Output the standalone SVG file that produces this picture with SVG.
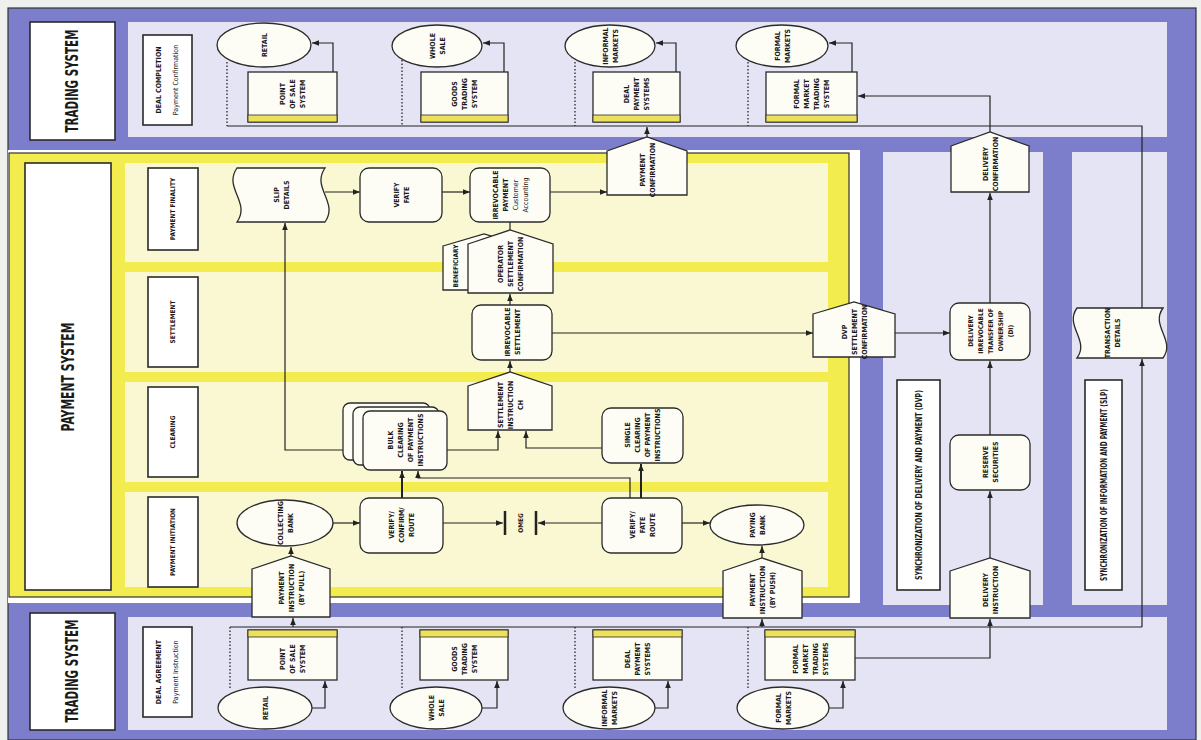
<svg xmlns="http://www.w3.org/2000/svg" width="1201" height="740" viewBox="0 0 1201 740">
<defs>
<style>
.t{font-family:"Liberation Sans Narrow","DejaVu Sans Condensed","Liberation Sans",sans-serif;font-weight:bold;font-size:7px;fill:#1a1a1a;text-anchor:middle}
.s{font-size:6.5px}
.r{font-weight:normal}
.big{font-size:17px}
.n{fill:#fdfdf6;stroke:#2a2a2a;stroke-width:1.3}
.lb{fill:#fff;stroke:#2a2a2a;stroke-width:1.6}
.strip{fill:#ece05c;stroke:#2a2a2a;stroke-width:0.8}
.c{fill:none;stroke:#222;stroke-width:1.2}
.a{marker-end:url(#ah)}
.dot{fill:none;stroke:#333;stroke-width:1.4;stroke-dasharray:1.5 2}
.purple{fill:#7c7ecb}
.lav{fill:#e4e4f5}
.yel{fill:#f3ec4e}
.ly{fill:#f9f8d2}
</style>
<marker id="ah" viewBox="0 0 10 10" refX="10" refY="5" markerWidth="7" markerHeight="7" orient="auto" markerUnits="userSpaceOnUse">
<path d="M0,1 L10,5 L0,9 z" fill="#222"/>
</marker>
</defs>

<!-- background frames -->
<g id="frames">
<rect x="0" y="0" width="1201" height="740" fill="#eef0ee"/>
<rect x="8" y="8" width="1188" height="732" class="purple" stroke="#333" stroke-width="1.2"/>
<rect x="128" y="22" width="1039" height="115" class="lav"/>
<rect x="8" y="150" width="852" height="453" fill="#fff"/>
<rect x="9" y="153" width="840" height="444" class="yel" stroke="#333" stroke-width="1.2"/>
<rect x="125" y="163" width="703" height="424" class="ly"/>
<rect x="112" y="262" width="736" height="10" class="yel"/>
<rect x="112" y="372" width="736" height="10" class="yel"/>
<rect x="112" y="482" width="736" height="10" class="yel"/>
<rect x="883" y="152" width="160" height="453" class="lav"/>
<rect x="1072" y="152" width="95" height="453" class="lav"/>
<rect x="128" y="617" width="1039" height="113" class="lav"/>
</g>

<!-- section labels -->
<g id="ts-top-label">
<rect x="30" y="22" width="85" height="118" class="lb"/>
<text class="t" style="font-size:11.5px" transform="translate(72 81) rotate(-90) scale(1 1.5)" y="4">TRADING SYSTEM</text>
</g>
<g id="ps-label">
<rect x="25" y="163" width="86" height="427" class="lb"/>
<text class="t" style="font-size:12px" transform="translate(68 377) rotate(-90) scale(1 1.5)" y="4">PAYMENT SYSTEM</text>
</g>
<g id="ts-bot-label">
<rect x="30" y="613" width="85" height="117" class="lb"/>
<text class="t" style="font-size:11.5px" transform="translate(72 671) rotate(-90) scale(1 1.5)" y="4">TRADING SYSTEM</text>
</g>
<g id="deal-completion">
<rect x="143" y="35" width="49" height="90" class="lb"/>
<text class="t" transform="translate(167 80) rotate(-90)"><tspan x="0" y="-6">DEAL COMPLETION</tspan><tspan class="r" x="0" y="11">Payment Confirmation</tspan></text>
</g>
<g id="deal-agreement">
<rect x="143" y="627" width="49" height="90" class="lb"/>
<text class="t" transform="translate(167 672) rotate(-90)"><tspan x="0" y="-6">DEAL AGREEMENT</tspan><tspan class="r" x="0" y="11">Payment Instruction</tspan></text>
</g>
<g id="lane-finality">
<rect x="148" y="168" width="50" height="82" class="lb"/>
<text class="t s" transform="translate(173 209) rotate(-90)" y="2.3">PAYMENT FINALITY</text>
</g>
<g id="lane-settlement">
<rect x="148" y="277" width="50" height="90" class="lb"/>
<text class="t s" transform="translate(173 322) rotate(-90)" y="2.3">SETTLEMENT</text>
</g>
<g id="lane-clearing">
<rect x="148" y="387" width="50" height="90" class="lb"/>
<text class="t s" transform="translate(173 432) rotate(-90)" y="2.3">CLEARING</text>
</g>
<g id="lane-initiation">
<rect x="148" y="497" width="50" height="90" class="lb"/>
<text class="t s" transform="translate(173 542) rotate(-90)" y="2.3">PAYMENT INITIATION</text>
</g>
<g id="dvp-label">
<rect x="897" y="380" width="43" height="210" class="lb"/>
<text class="t" transform="translate(918.5 485) rotate(-90)" y="3" style="font-size:8px" textLength="190" lengthAdjust="spacingAndGlyphs">SYNCHRONIZATION OF DELIVERY AND PAYMENT (DVP)</text>
</g>
<g id="slp-label">
<rect x="1085" y="380" width="37" height="210" class="lb"/>
<text class="t" transform="translate(1103.5 485) rotate(-90)" y="3" style="font-size:8px" textLength="192" lengthAdjust="spacingAndGlyphs">SYNCHRONIZATION OF INFORMATION AND PAYMENT (SLP)</text>
</g>

<!-- connectors -->
<g id="connectors">
<path class="c" d="M227,126 H1142 V308"/>
<path class="c a" d="M1142,627 V359"/>
<path class="c" d="M230,627 H1142"/>
<path class="c a" d="M333,72 V43 H312"/>
<path class="c a" d="M504,72 V43 H483"/>
<path class="c a" d="M676,72 V43 H656"/>
<path class="c a" d="M852,72 V43 H829"/>
<path class="c a" d="M312,708 H325 V681"/>
<path class="c a" d="M482,708 H497 V681"/>
<path class="c a" d="M655,708 H668 V681"/>
<path class="c a" d="M829,708 H843 V681"/>
<path class="dot" d="M227,62 V126 M402,60 V126 M575,62 V126 M748,62 V126"/>
<path class="dot" d="M230,627 V690 M402,627 V688 M575,627 V688 M748,627 V688"/>
<path class="c a" d="M325,192 H360"/>
<path class="c a" d="M442,192 H470"/>
<path class="c a" d="M550,192 H607"/>
<path class="c a" d="M647,137 V127"/>
<path class="c" d="M510,222 V230"/>
<path class="c a" d="M510,305 V294"/>
<path class="c a" d="M510,372 V361"/>
<path class="c a" d="M552,333 H813"/>
<path class="c a" d="M895,333 H950"/>
<path class="c a" d="M990,303 V193"/>
<path class="c a" d="M990,132 V96 H858"/>
<path class="c a" d="M990,435 V361"/>
<path class="c a" d="M990,558 V491"/>
<path class="c a" d="M855,658 H990 V619"/>
<path class="c a" d="M343,450 H285 V223"/>
<path class="c a" d="M447,450 H498 V431"/>
<path class="c a" d="M602,448 H526 V431"/>
<path class="c a" d="M402,498 V471" style="stroke-width:2"/>
<path class="c a" d="M630,498 V478 H418 V471"/>
<path class="c a" d="M641,498 V464" style="stroke-width:2"/>
<path class="c a" d="M333,523 H360"/>
<path class="c a" d="M443,523 H503"/>
<path class="c a" d="M602,523 H538"/>
<path class="c a" d="M682,523 H710"/>
<path class="c a" d="M291,556 V547"/>
<path class="c a" d="M293,627 V618"/>
<path class="c a" d="M762,558 V546"/>
<path class="c a" d="M762,627 V619"/>
</g>

<!-- top trading row -->
<g id="retail-top"><ellipse cx="264" cy="45" rx="47" ry="22" class="n"/><text class="t" transform="translate(264 45) rotate(-90)"><tspan x="0" y="2.5">RETAIL</tspan></text></g>
<g id="pos-top"><rect x="248" y="72" width="89" height="50" class="n"/><rect x="248" y="115" width="89" height="7" class="strip"/><text class="t" transform="translate(292 94) rotate(-90)"><tspan x="0" y="-7.5">POINT</tspan><tspan x="0" y="2.5">OF SALE</tspan><tspan x="0" y="12.5">SYSTEM</tspan></text></g>
<g id="wholesale-top"><ellipse cx="437" cy="46" rx="45" ry="21" class="n"/><text class="t" transform="translate(437 46) rotate(-90)"><tspan x="0" y="-2.5">WHOLE</tspan><tspan x="0" y="7.5">SALE</tspan></text></g>
<g id="goods-top"><rect x="421" y="72" width="87" height="50" class="n"/><rect x="421" y="115" width="87" height="7" class="strip"/><text class="t" transform="translate(464 94) rotate(-90)"><tspan x="0" y="-7.5">GOODS</tspan><tspan x="0" y="2.5">TRADING</tspan><tspan x="0" y="12.5">SYSTEM</tspan></text></g>
<g id="informal-top"><ellipse cx="610" cy="46" rx="45" ry="21" class="n"/><text class="t" transform="translate(610 46) rotate(-90)"><tspan x="0" y="-2.5">INFORMAL</tspan><tspan x="0" y="7.5">MARKETS</tspan></text></g>
<g id="dealpay-top"><rect x="593" y="72" width="87" height="50" class="n"/><rect x="593" y="115" width="87" height="7" class="strip"/><text class="t" transform="translate(636 94) rotate(-90)"><tspan x="0" y="-7.5">DEAL</tspan><tspan x="0" y="2.5">PAYMENT</tspan><tspan x="0" y="12.5">SYSTEMS</tspan></text></g>
<g id="formal-top"><ellipse cx="782" cy="46" rx="46" ry="21" class="n"/><text class="t" transform="translate(782 46) rotate(-90)"><tspan x="0" y="-2.5">FORMAL</tspan><tspan x="0" y="7.5">MARKETS</tspan></text></g>
<g id="fmts-top"><rect x="766" y="72" width="91" height="50" class="n"/><rect x="766" y="115" width="91" height="7" class="strip"/><text class="t" transform="translate(811 94) rotate(-90)"><tspan x="0" y="-12.5">FORMAL</tspan><tspan x="0" y="-2.5">MARKET</tspan><tspan x="0" y="7.5">TRADING</tspan><tspan x="0" y="17.5">SYSTEM</tspan></text></g>

<!-- bottom trading row -->
<g id="retail-bot"><ellipse cx="265" cy="708" rx="47" ry="21" class="n"/><text class="t" transform="translate(265 708) rotate(-90)"><tspan x="0" y="2.5">RETAIL</tspan></text></g>
<g id="pos-bot"><rect x="248" y="630" width="89" height="50" class="n"/><rect x="248" y="630" width="89" height="7" class="strip"/><text class="t" transform="translate(292 659) rotate(-90)"><tspan x="0" y="-7.5">POINT</tspan><tspan x="0" y="2.5">OF SALE</tspan><tspan x="0" y="12.5">SYSTEM</tspan></text></g>
<g id="wholesale-bot"><ellipse cx="436" cy="708" rx="46" ry="21" class="n"/><text class="t" transform="translate(436 708) rotate(-90)"><tspan x="0" y="-2.5">WHOLE</tspan><tspan x="0" y="7.5">SALE</tspan></text></g>
<g id="goods-bot"><rect x="420" y="630" width="88" height="50" class="n"/><rect x="420" y="630" width="88" height="7" class="strip"/><text class="t" transform="translate(464 659) rotate(-90)"><tspan x="0" y="-7.5">GOODS</tspan><tspan x="0" y="2.5">TRADING</tspan><tspan x="0" y="12.5">SYSTEM</tspan></text></g>
<g id="informal-bot"><ellipse cx="609" cy="708" rx="46" ry="21" class="n"/><text class="t" transform="translate(609 708) rotate(-90)"><tspan x="0" y="-2.5">INFORMAL</tspan><tspan x="0" y="7.5">MARKETS</tspan></text></g>
<g id="dealpay-bot"><rect x="593" y="630" width="89" height="50" class="n"/><rect x="593" y="630" width="89" height="7" class="strip"/><text class="t" transform="translate(637 659) rotate(-90)"><tspan x="0" y="-7.5">DEAL</tspan><tspan x="0" y="2.5">PAYMENT</tspan><tspan x="0" y="12.5">SYSTEMS</tspan></text></g>
<g id="formal-bot"><ellipse cx="783" cy="708" rx="46" ry="21" class="n"/><text class="t" transform="translate(783 708) rotate(-90)"><tspan x="0" y="-2.5">FORMAL</tspan><tspan x="0" y="7.5">MARKETS</tspan></text></g>
<g id="fmts-bot"><rect x="765" y="630" width="90" height="50" class="n"/><rect x="765" y="630" width="90" height="7" class="strip"/><text class="t" transform="translate(810 659) rotate(-90)"><tspan x="0" y="-12.5">FORMAL</tspan><tspan x="0" y="-2.5">MARKET</tspan><tspan x="0" y="7.5">TRADING</tspan><tspan x="0" y="17.5">SYSTEMS</tspan></text></g>

<!-- payment finality lane -->
<g id="slip-details"><path class="n" d="M237,168 H325 C311,188 339,202 325,222 H237 C251,202 223,188 237,168 Z"/><text class="t" transform="translate(281 195) rotate(-90)"><tspan x="0" y="-2.5">SLIP</tspan><tspan x="0" y="7.5">DETAILS</tspan></text></g>
<g id="verify-fate"><rect x="360" y="168" width="82" height="54" rx="9" class="n"/><text class="t" transform="translate(401 195) rotate(-90)"><tspan x="0" y="-2.5">VERIFY</tspan><tspan x="0" y="7.5">FATE</tspan></text></g>
<g id="irrevocable-payment"><rect x="470" y="168" width="80" height="54" rx="9" class="n"/><text class="t" transform="translate(510 195) rotate(-90)"><tspan x="0" y="-12.5">IRREVOCABLE</tspan><tspan x="0" y="-2.5">PAYMENT</tspan><tspan class="r" x="0" y="7.5">Customer</tspan><tspan class="r" x="0" y="17.5">Accounting</tspan></text></g>
<g id="payment-confirmation"><polygon class="n" points="607,151 647,137 687,151 687,195 607,195"/><text class="t" transform="translate(647 170) rotate(-90)"><tspan x="0" y="-2.5">PAYMENT</tspan><tspan x="0" y="7.5">CONFIRMATION</tspan></text></g>

<!-- settlement lane -->
<g id="settlement-confirmation">
<polygon class="n" points="443,246 484,234 525,246 525,290 443,290"/>
<text class="t s" transform="translate(456 266) rotate(-90)" y="2.3">BENEFICIARY</text>
<polygon class="n" points="468,244 510,230 553,244 553,293 468,293"/>
<text class="t" transform="translate(510 264) rotate(-90)"><tspan x="0" y="-7.5">OPERATOR</tspan><tspan x="0" y="2.5">SETTLEMENT</tspan><tspan x="0" y="12.5">CONFIRMATION</tspan></text>
</g>
<g id="irrevocable-settlement"><rect x="472" y="305" width="80" height="55" rx="9" class="n"/><text class="t" transform="translate(512 332) rotate(-90)"><tspan x="0" y="-2.5">IRREVOCABLE</tspan><tspan x="0" y="7.5">SETTLEMENT</tspan></text></g>
<g id="dvp-settlement-confirmation"><polygon class="n" points="813,314 854,302 895,314 895,357 813,357"/><text class="t" transform="translate(854 332) rotate(-90)"><tspan x="0" y="-7.5">DVP</tspan><tspan x="0" y="2.5">SETTLEMENT</tspan><tspan x="0" y="12.5">CONFIRMATION</tspan></text></g>

<!-- clearing lane -->
<g id="settlement-instruction"><polygon class="n" points="468,386 510,372 552,386 552,430 468,430"/><text class="t" transform="translate(510 405) rotate(-90)"><tspan x="0" y="-7.5">SETTLEMENT</tspan><tspan x="0" y="2.5">INSTRUCTION</tspan><tspan x="0" y="12.5">CH</tspan></text></g>
<g id="bulk-clearing">
<rect x="343" y="403" width="87" height="57" rx="7" class="n"/>
<rect x="353" y="407" width="86" height="58" rx="7" class="n"/>
<rect x="363" y="411" width="84" height="59" rx="7" class="n"/>
<text class="t" transform="translate(405 440) rotate(-90)"><tspan x="0" y="-12.5">BULK</tspan><tspan x="0" y="-2.5">CLEARING</tspan><tspan x="0" y="7.5">OF PAYMENT</tspan><tspan x="0" y="17.5">INSTRUCTIONS</tspan></text>
</g>
<g id="single-clearing"><rect x="602" y="408" width="81" height="55" rx="9" class="n"/><text class="t" transform="translate(642 435) rotate(-90)"><tspan x="0" y="-12.5">SINGLE</tspan><tspan x="0" y="-2.5">CLEARING</tspan><tspan x="0" y="7.5">OF PAYMENT</tspan><tspan x="0" y="17.5">INSTRUCTIONS</tspan></text></g>

<!-- initiation lane -->
<g id="collecting-bank"><ellipse cx="285" cy="523" rx="48" ry="23" class="n"/><text class="t" transform="translate(285 523) rotate(-90)"><tspan x="0" y="-2.5">COLLECTING</tspan><tspan x="0" y="7.5">BANK</tspan></text></g>
<g id="verify-confirm-route"><rect x="360" y="498" width="83" height="55" rx="9" class="n"/><text class="t" transform="translate(401 525) rotate(-90)"><tspan x="0" y="-7.5">VERIFY/</tspan><tspan x="0" y="2.5">CONFIRM/</tspan><tspan x="0" y="12.5">ROUTE</tspan></text></g>
<g id="omeg"><line x1="505" y1="511" x2="505" y2="535" stroke="#222" stroke-width="2.5"/><line x1="536" y1="511" x2="536" y2="535" stroke="#222" stroke-width="2.5"/><text class="t s" transform="translate(520.5 523) rotate(-90)" y="2.3">OMEG</text></g>
<g id="verify-fate-route"><rect x="602" y="498" width="80" height="55" rx="9" class="n"/><text class="t" transform="translate(642 525) rotate(-90)"><tspan x="0" y="-7.5">VERIFY/</tspan><tspan x="0" y="2.5">FATE</tspan><tspan x="0" y="12.5">ROUTE</tspan></text></g>
<g id="paying-bank"><ellipse cx="757" cy="525" rx="47" ry="20" class="n"/><text class="t" transform="translate(757 525) rotate(-90)"><tspan x="0" y="-2.5">PAYING</tspan><tspan x="0" y="7.5">BANK</tspan></text></g>
<g id="instruction-pull"><polygon class="n" points="252,569 291,556 330,569 330,617 252,617"/><text class="t" transform="translate(291 588) rotate(-90)"><tspan x="0" y="-7.5">PAYMENT</tspan><tspan x="0" y="2.5">INSTRUCTION</tspan><tspan x="0" y="12.5">(BY PULL)</tspan></text></g>
<g id="instruction-push"><polygon class="n" points="723,571 762,558 802,571 802,618 723,618"/><text class="t" transform="translate(762 590) rotate(-90)"><tspan x="0" y="-7.5">PAYMENT</tspan><tspan x="0" y="2.5">INSTRUCTION</tspan><tspan x="0" y="12.5">(BY PUSH)</tspan></text></g>

<!-- DVP column -->
<g id="delivery-confirmation"><polygon class="n" points="951,146 990,132 1029,146 1029,192 951,192"/><text class="t" transform="translate(990 164) rotate(-90)"><tspan x="0" y="-2.5">DELIVERY</tspan><tspan x="0" y="7.5">CONFIRMATION</tspan></text></g>
<g id="delivery-di"><rect x="950" y="303" width="80" height="57" rx="9" class="n"/><text class="t s" transform="translate(990 331) rotate(-90)"><tspan x="0" y="-17.5">DELIVERY</tspan><tspan x="0" y="-7.5">IRREVOCABLE</tspan><tspan x="0" y="2.5">TRANSFER OF</tspan><tspan x="0" y="12.5">OWNERSHIP</tspan><tspan x="0" y="22.5">(DI)</tspan></text></g>
<g id="reserve-securities"><rect x="950" y="435" width="80" height="55" rx="9" class="n"/><text class="t" transform="translate(990 462) rotate(-90)"><tspan x="0" y="-2.5">RESERVE</tspan><tspan x="0" y="7.5">SECURITIES</tspan></text></g>
<g id="delivery-instruction"><polygon class="n" points="950,571 990,558 1030,571 1030,618 950,618"/><text class="t" transform="translate(990 590) rotate(-90)"><tspan x="0" y="-2.5">DELIVERY</tspan><tspan x="0" y="7.5">INSTRUCTION</tspan></text></g>

<!-- SLP column -->
<g id="transaction-details"><path class="n" d="M1077,308 H1163 C1150,326 1176,340 1163,358 H1077 C1090,340 1064,326 1077,308 Z"/><text class="t" transform="translate(1112 333) rotate(-90)"><tspan x="0" y="-2.5">TRANSACTION</tspan><tspan x="0" y="7.5">DETAILS</tspan></text></g>
</svg>
